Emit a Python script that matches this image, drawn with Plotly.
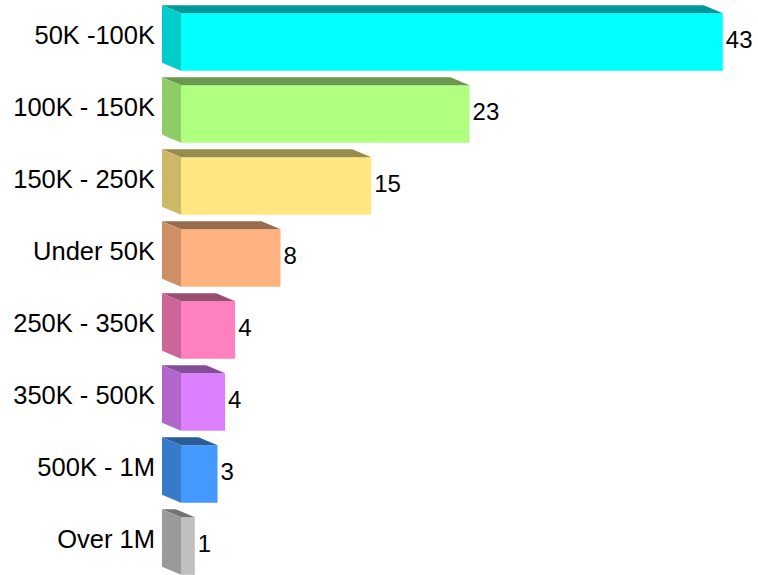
import plotly.graph_objects as go

categories = ["50K -100K", "100K - 150K", "150K - 250K", "Under 50K",
              "250K - 350K", "350K - 500K", "500K - 1M", "Over 1M"]
values = [43.0, 22.9, 15.1, 7.9, 4.3, 3.5, 2.9, 1.1]
value_labels = ["43", "23", "15", "8", "4", "4", "3", "1"]
front_colors = [(0, 255, 255), (176, 255, 128), (255, 230, 128), (255, 179, 128),
                (255, 128, 191), (221, 128, 255), (68, 153, 255), (192, 192, 192)]

W, H = 758, 575
ML = 162             # plot-area left edge (back plane)
PX_X = 12.6          # pixels per value unit
PX_Y = 72.0          # pixels per category
DX_PX, DY_PX = 19, 8  # 3D depth offset in pixels
BAR_W = 0.8
LABEL_GAP_PX = 3

dx = DX_PX / PX_X
dy = DY_PX / PX_Y
plot_w = W - ML
x_range = [-dx, (plot_w - DX_PX) / PX_X]
first_center_px = 42
y_top = -first_center_px / PX_Y
y_bot = y_top + H / PX_Y


def rgb(c, f=1.0):
    return "rgb(%d,%d,%d)" % tuple(round(v * f) for v in c)


ypos = list(range(len(categories)))
fig = go.Figure()
fig.add_trace(go.Bar(
    x=values, y=ypos, orientation="h", width=BAR_W,
    marker=dict(color=[rgb(c) for c in front_colors], line=dict(width=0)),
    hoverinfo="skip", showlegend=False,
))

for i, (v, c) in enumerate(zip(values, front_colors)):
    yt = i - BAR_W / 2
    yb = i + BAR_W / 2
    # top face
    fig.add_trace(go.Scatter(
        x=[0, v, v - dx, -dx, 0], y=[yt, yt, yt - dy, yt - dy, yt],
        fill="toself", fillcolor=rgb(c, 0.6), mode="lines",
        line=dict(width=0, color=rgb(c, 0.6)), hoverinfo="skip", showlegend=False))
    # left side face
    fig.add_trace(go.Scatter(
        x=[0, 0, -dx, -dx, 0], y=[yt, yb, yb - dy, yt - dy, yt],
        fill="toself", fillcolor=rgb(c, 0.8), mode="lines",
        line=dict(width=0, color=rgb(c, 0.8)), hoverinfo="skip", showlegend=False))

fig.add_trace(go.Scatter(
    x=[v + LABEL_GAP_PX / PX_X for v in values], y=ypos, mode="text",
    text=value_labels,
    textposition="middle right",
    textfont=dict(family="Liberation Sans, Arial", size=24, color="black"),
    hoverinfo="skip", showlegend=False, cliponaxis=False))

fig.update_layout(
    width=W, height=H,
    margin=dict(l=ML, r=0, t=0, b=0),
    paper_bgcolor="white", plot_bgcolor="white",
    hovermode=False,
    xaxis=dict(range=x_range, visible=False, showgrid=False, zeroline=False, fixedrange=True),
    yaxis=dict(range=[y_bot, y_top], tickvals=[i - 0.09 for i in ypos], ticktext=categories,
               showgrid=False, zeroline=False, showline=False, ticks="", fixedrange=True,
               ticklabelstandoff=6,
               tickfont=dict(family="Liberation Sans, Arial", size=25.5, color="black")),
)

fig.write_html("out.html",
               config={"displayModeBar": False},
               post_script="document.body.style.margin='0';document.body.style.overflow='hidden';")
